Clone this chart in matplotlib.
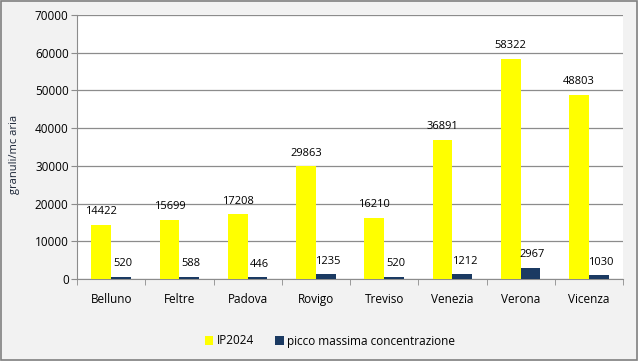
import matplotlib
matplotlib.use("Agg")
import matplotlib.pyplot as plt
import numpy as np

categories = ["Belluno", "Feltre", "Padova", "Rovigo", "Treviso", "Venezia", "Verona", "Vicenza"]
ip2024 = [14422, 15699, 17208, 29863, 16210, 36891, 58322, 48803]
picco = [520, 588, 446, 1235, 520, 1212, 2967, 1030]
yticks = [0, 10000, 20000, 30000, 40000, 50000, 60000, 70000]

plt.rcParams['font.family'] = ['Open Sans', 'DejaVu Sans']

fig = plt.figure(figsize=(6.38, 3.61), dpi=100, facecolor='#F2F2F2')
ax = fig.add_axes([77/638, 1-279/361, (623-77)/638, (279-15)/361])
ax.set_facecolor('white')

x = np.arange(len(categories))
w = 0.29
yel = '#FFFF00'
navy = '#1B3A62'
b1 = ax.bar(x - w/2, ip2024, w, color=yel, label='IP2024', zorder=3)
b2 = ax.bar(x + w/2, picco, w, color=navy, label='picco massima concentrazione', zorder=3)

for xi, v in zip(x, ip2024):
    ax.text(xi - w/2, v + 2000, str(v), ha='center', va='bottom', fontsize=8)
for xi, v in zip(x, picco):
    ax.text(xi + w/2 + 0.03, v + 2000, str(v), ha='center', va='bottom', fontsize=8)

ax.set_xlim(-0.5, len(categories) - 0.5)
ax.set_ylim(0, 70000)
ax.set_yticks(yticks)
ax.set_yticklabels([str(t) for t in yticks], fontsize=8.5)
ax.yaxis.grid(True, color='#8C8C8C', linewidth=0.9, zorder=0)
ax.set_xticks(x)
ax.set_xticklabels(categories, fontsize=8.5)
ax.set_xticks(np.arange(-0.5, len(categories)), minor=True)
ax.tick_params(axis='x', which='major', length=0, pad=10)
ax.tick_params(axis='x', which='minor', length=4, color='#8C8C8C')
ax.tick_params(axis='y', length=4, color='#8C8C8C', pad=2)
for s in ['top', 'right']:
    ax.spines[s].set_visible(False)
for s in ['left', 'bottom']:
    ax.spines[s].set_color('#8C8C8C')
ax.set_ylabel('granuli/mc aria', fontsize=8, color='#1A2436', labelpad=6)
ax.yaxis.set_label_coords(-0.105, 0.47)

fig.legend(handles=[b1, b2], loc='center', bbox_to_anchor=(330/638, 1-341/361), ncol=2,
           frameon=False, fontsize=8.5, handlelength=0.7, handleheight=0.7,
           handletextpad=0.3, columnspacing=1.8)

fig.patches.append(plt.Rectangle((0.001, 0.002), 0.997, 0.996, transform=fig.transFigure,
                                 fill=False, edgecolor='#808080', linewidth=1.2))
fig.savefig('out.png', dpi=100, facecolor=fig.get_facecolor())
